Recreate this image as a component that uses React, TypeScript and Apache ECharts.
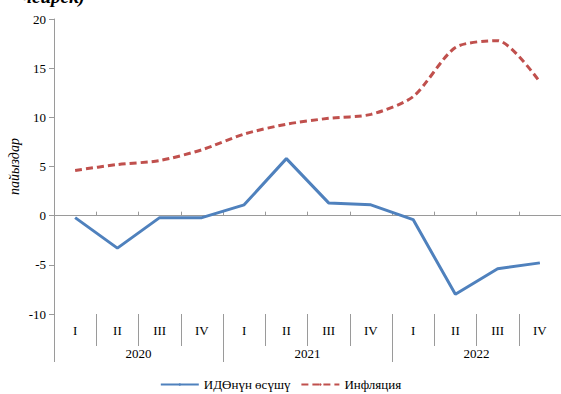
import React, { useEffect, useRef } from "react";
import * as echarts from "echarts";

const quarters = ["I", "II", "III", "IV", "I", "II", "III", "IV", "I", "II", "III", "IV"];
const years = ["2020", "2021", "2022"];
const gdpGrowth = [-0.2, -3.3, -0.2, -0.2, 1.1, 5.8, 1.3, 1.1, -0.4, -8.0, -5.4, -4.8];
const inflation = [4.6, 5.2, 5.6, 6.7, 8.3, 9.3, 9.9, 10.3, 12.1, 17.1, 17.8, 13.6];
const seriesNames = ["ИДӨнүн өсүшү", "Инфляция"];
const yAxisName = "пайыздар";
const titleTail = "чейрек)";

const FONT = "'Liberation Serif', 'DejaVu Serif', serif";

export default function App() {
  const ref = useRef<HTMLDivElement>(null);
  useEffect(() => {
    if (!ref.current) return;
    const chart = echarts.init(ref.current, null, { renderer: "svg" });
    const qIdx = quarters.map((_, i) => String(i));
    chart.setOption({
      animation: false,
      backgroundColor: "#ffffff",
      textStyle: { fontFamily: FONT },
      grid: { left: 54, right: 0, top: 19, bottom: 80, containLabel: false, outerBoundsMode: "none" },
      graphic: [
        {
          type: "text",
          left: 22,
          top: -13,
          style: {
            text: titleTail,
            font: `italic bold 19px ${FONT}`,
            fill: "#000",
          },
        },
      ],
      legend: {
        top: 373,
        left: "center",
        itemWidth: 38,
        itemHeight: 3,
        itemGap: 10,
        textStyle: { fontFamily: FONT, fontSize: 13, color: "#000" },
        data: seriesNames,
      },
      xAxis: [
        {
          type: "category",
          data: qIdx,
          position: "bottom",
          axisLine: { onZero: true, lineStyle: { color: "#9a9a9a", width: 1 } },
          axisTick: { show: true, inside: true, length: 4, lineStyle: { color: "#9a9a9a" } },
          axisLabel: { show: false },
          splitLine: { show: false },
        },
        {
          type: "category",
          data: quarters.map((q, i) => ({ value: q + "_" + i })),
          position: "bottom",
          offset: 0,
          axisLine: { show: false, onZero: false },
          axisTick: { show: true, interval: 0, length: 32, lineStyle: { color: "#9a9a9a" } },
          axisLabel: {
            interval: 0,
            margin: 10,
            fontFamily: FONT,
            fontSize: 13,
            color: "#000",
            formatter: (v: string) => v.split("_")[0],
          },
          splitLine: { show: false },
        },
        {
          type: "category",
          data: years,
          position: "bottom",
          offset: 0,
          axisLine: { show: false, onZero: false },
          axisTick: { show: true, interval: 0, length: 48, lineStyle: { color: "#9a9a9a" } },
          axisLabel: {
            interval: 0,
            margin: 33,
            fontFamily: FONT,
            fontSize: 13,
            color: "#000",
          },
          splitLine: { show: false },
        },
      ],
      yAxis: {
        type: "value",
        min: -10,
        max: 20,
        interval: 5,
        name: yAxisName,
        nameLocation: "middle",
        nameRotate: 90,
        nameGap: 33,
        nameMoveOverlap: false,
        nameTextStyle: { fontFamily: FONT, fontStyle: "italic", fontSize: 14, color: "#000" },
        axisLine: { show: true, lineStyle: { color: "#9a9a9a" } },
        axisTick: { show: true, length: 5, lineStyle: { color: "#9a9a9a" } },
        axisLabel: { fontFamily: FONT, fontSize: 13, color: "#000", margin: 8 },
        splitLine: { show: false },
      },
      series: [
        {
          name: seriesNames[0],
          type: "line",
          data: gdpGrowth,
          xAxisIndex: 0,
          showSymbol: false,
          symbol: "none",
          lineStyle: { color: "#4F81BD", width: 3 },
          itemStyle: { color: "#4F81BD" },
        },
        {
          name: seriesNames[1],
          type: "line",
          data: inflation,
          xAxisIndex: 0,
          smooth: 0.25,
          showSymbol: false,
          symbol: "none",
          lineStyle: { color: "#C0504D", width: 3, type: [7, 4] },
          itemStyle: { color: "#C0504D" },
        },
      ],
    });
    return () => chart.dispose();
  }, []);
  return (
    <div
      ref={ref}
      style={{ position: "fixed", left: 0, top: 0, width: 561, height: 394, background: "#fff" }}
    />
  );
}
